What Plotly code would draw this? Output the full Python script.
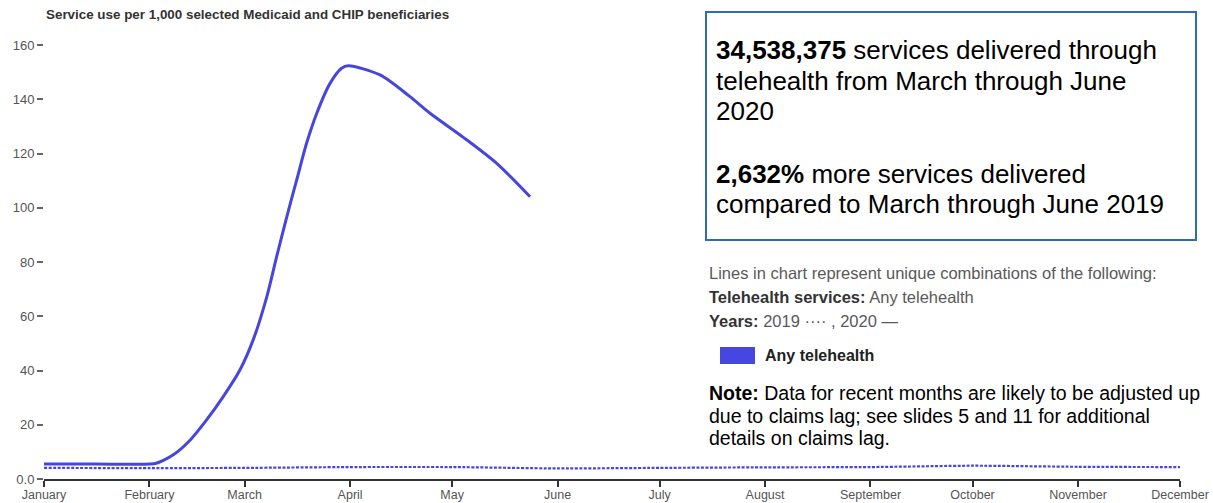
import pandas as pd
import plotly.graph_objects as go

# ---------------- data ----------------
months = ["January", "February", "March", "April", "May", "June",
          "July", "August", "September", "October", "November", "December"]
axis_year_start = "2019-01-01"   # months of the year are shown on a common calendar axis

# 2019 (dotted): monthly values, Any telehealth
values_2019 = [4.1, 4.0, 4.1, 4.4, 4.4, 3.9, 4.1, 4.3, 4.4, 4.9, 4.5, 4.4]

# 2020 (solid): readings along the curve, day-of-year offsets and values
days_2020 = [0, 15, 31, 33, 38, 43, 47.8, 52.7, 57.6, 61.5, 65.5, 68.4, 71.4, 74.3,
             77.2, 80.2, 84.1, 87.5, 89.5, 98.8, 107.6, 113.5, 123.3, 133.1, 142.9]
values_2020 = [5.5, 5.5, 5.5, 5.8, 8.9, 14.4, 21.8, 30.4, 40.2, 51.3, 67.2, 82.0, 96.8, 110.3,
               123.8, 134.9, 145.9, 151.5, 152.4, 149.0, 141.0, 134.9, 126.0, 116.4, 104.1]

y_tick_values = [0, 20, 40, 60, 80, 100, 120, 140, 160]
y_tick_labels = ["0.0", "20", "40", "60", "80", "100", "120", "140", "160"]

series_name = "Any telehealth"
color_line = "#4646DD"

x_2019 = pd.date_range(axis_year_start, periods=12, freq="MS")
x_2020 = pd.Timestamp(axis_year_start) + pd.to_timedelta(days_2020, unit="D")

# ---------------- figure ----------------
W, H = 1213, 503
ML, MR, MT, MB = 44, 33, 37, 24
PW, PH = W - ML - MR, H - MT - MB


def xp(px):
    return (px - ML) / PW


def yp(py):
    return (H - MB - py) / PH


fig = go.Figure()
fig.add_trace(go.Scatter(
    x=x_2019, y=values_2019, mode="lines", name="2019",
    line=dict(color=color_line, width=2.2, dash="3px,1.5px", shape="spline", smoothing=0.6),
    hoverinfo="skip"))
fig.add_trace(go.Scatter(
    x=x_2020, y=values_2020, mode="lines", name="2020",
    line=dict(color=color_line, width=3, shape="spline", smoothing=0.8),
    hoverinfo="skip"))

font_family = "Arial, Liberation Sans, sans-serif"

fig.update_layout(
    width=W, height=H,
    margin=dict(l=ML, r=MR, t=MT, b=MB, autoexpand=False),
    paper_bgcolor="white", plot_bgcolor="white",
    showlegend=False,
    font=dict(family=font_family, color="#555555"),
    xaxis=dict(
        type="date", automargin=False,
        range=[x_2019[0], x_2019[-1]],
        tickvals=list(x_2019), ticktext=months,
        showgrid=False, zeroline=False,
        showline=True, linecolor="#333333", linewidth=1.5,
        ticks="outside", ticklen=6, tickwidth=1.5, tickcolor="#333333",
        ticklabelstandoff=-3,
        tickfont=dict(size=12.5, color="#555555"),
    ),
    yaxis=dict(
        automargin=False,
        range=[0, 163],
        tickvals=y_tick_values, ticktext=y_tick_labels,
        showgrid=False, zeroline=False, showline=False,
        ticks="outside", ticklen=6, tickwidth=1.5, tickcolor="#666666",
        tickfont=dict(size=13, color="#555555"),
    ),
)

annotations = []


def ann(text, px, py, size, color="#000000", xanchor="left", yanchor="middle"):
    annotations.append(dict(
        text=text, x=xp(px), y=yp(py), xref="paper", yref="paper",
        xanchor=xanchor, yanchor=yanchor, showarrow=False, align="left",
        font=dict(size=size, color=color, family=font_family)))


# chart title
ann("<b>Service use per 1,000 selected Medicaid and CHIP beneficiaries</b>", 44, 15, 13.4, "#333333")

# key figures box
box_lines = [
    ("<b>34,538,375</b> services delivered through", 50),
    ("telehealth from March through June", 81),
    ("2020", 111),
    ("<b>2,632%</b> more services delivered", 174),
    ("compared to March through June 2019", 204),
]
for t, py in box_lines:
    ann(t, 714, py, 26, "#000000")

# legend description
ann("Lines in chart represent unique combinations of the following:", 707, 273, 16.5, "#595959")
ann("<span style='color:#333333'><b>Telehealth services:</b></span> Any telehealth", 707, 297, 16.5, "#595959")
ann("<span style='color:#333333'><b>Years:</b></span> 2019 ···· , 2020 —", 707, 321, 16.5, "#595959")
ann("<b>" + series_name + "</b>", 763, 355, 16, "#222222")

# note
ann("<b>Note:</b> Data for recent months are likely to be adjusted up", 707, 393, 19.5)
ann("due to claims lag; see slides 5 and 11 for additional", 707, 416, 19.5)
ann("details on claims lag.", 707, 438, 19.5)

fig.update_layout(annotations=annotations)

shapes = [
    dict(type="rect", xref="paper", yref="paper",
         x0=xp(706), x1=xp(1196), y0=yp(240), y1=yp(12),
         line=dict(color="#2E6DB5", width=2), fillcolor="rgba(0,0,0,0)"),
    dict(type="rect", xref="paper", yref="paper",
         x0=xp(720), x1=xp(755), y0=yp(364), y1=yp(347),
         line=dict(width=0), fillcolor="#4646E0"),
]
fig.update_layout(shapes=shapes)

fig.write_html("out.html")
